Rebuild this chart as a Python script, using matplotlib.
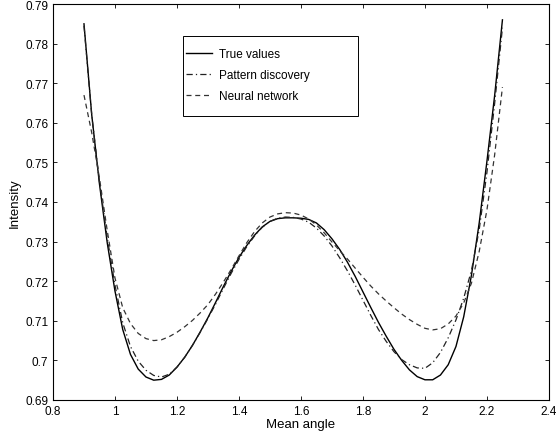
import matplotlib
matplotlib.use("Agg")
import matplotlib.pyplot as plt
from matplotlib.patches import Rectangle

plt.rcParams['font.family'] = ['Liberation Sans', 'DejaVu Sans']

x = [0.900, 0.925, 0.950, 0.975, 1.000, 1.025, 1.050, 1.075, 1.100, 1.125,
     1.150, 1.175, 1.200, 1.225, 1.250, 1.275, 1.300, 1.325, 1.350, 1.375,
     1.400, 1.425, 1.450, 1.475, 1.500, 1.525, 1.550, 1.575, 1.600, 1.625,
     1.650, 1.675, 1.700, 1.725, 1.750, 1.775, 1.800, 1.825, 1.850, 1.875,
     1.900, 1.925, 1.950, 1.975, 2.000, 2.025, 2.050, 2.075, 2.100, 2.125,
     2.150, 2.175, 2.200, 2.225, 2.250]

true_values = [0.785, 0.762, 0.7445, 0.7297, 0.7175, 0.7078, 0.7015, 0.6978, 0.6958, 0.695,
               0.6952, 0.6963, 0.6983, 0.7008, 0.7038, 0.7072, 0.7108, 0.7147, 0.7187, 0.7225,
               0.726, 0.729, 0.7316, 0.7337, 0.7351, 0.7358, 0.736, 0.736, 0.7359, 0.7356,
               0.7347, 0.733, 0.7307, 0.728, 0.7248, 0.7212, 0.7173, 0.7134, 0.7096, 0.7061,
               0.7028, 0.700, 0.6976, 0.6959, 0.6951, 0.6951, 0.6963, 0.6989, 0.7035, 0.711,
               0.7215, 0.7347, 0.7503, 0.767, 0.786]

pattern_discovery = [0.7845, 0.762, 0.745, 0.731, 0.719, 0.7095, 0.7035, 0.6998, 0.6975, 0.6962,
                     0.6958, 0.6965, 0.6983, 0.7008, 0.7038, 0.7071, 0.7106, 0.7143, 0.7182, 0.722,
                     0.7255, 0.7287, 0.7314, 0.7336, 0.7351, 0.7359, 0.7362, 0.7361, 0.7357, 0.7349,
                     0.7334, 0.7314, 0.7289, 0.7259, 0.7226, 0.719, 0.7152, 0.7114, 0.7078, 0.7048,
                     0.7022, 0.7002, 0.6989, 0.6981, 0.698, 0.6994, 0.702, 0.7057, 0.7102, 0.7157,
                     0.7227, 0.733, 0.7475, 0.765, 0.784]

neural_network = [0.767, 0.7575, 0.746, 0.7328, 0.7208, 0.7133, 0.7093, 0.7068, 0.7055, 0.705,
                  0.7052, 0.706, 0.7071, 0.7085, 0.7101, 0.712, 0.7141, 0.7168, 0.7198, 0.723,
                  0.7264, 0.7297, 0.7325, 0.7347, 0.7362, 0.737, 0.7373, 0.7372, 0.7367, 0.7357,
                  0.7342, 0.7322, 0.7299, 0.7277, 0.7256, 0.7233, 0.721, 0.7188, 0.7168, 0.715,
                  0.7133, 0.7117, 0.7103, 0.7091, 0.7081, 0.7077, 0.708, 0.7092, 0.7112, 0.7145,
                  0.7195, 0.7275, 0.738, 0.752, 0.769]

xticks = [0.8, 1.0, 1.2, 1.4, 1.6, 1.8, 2.0, 2.2, 2.4]
xticklabels = ['0.8', '1', '1.2', '1.4', '1.6', '1.8', '2', '2.2', '2.4']
yticks = [0.69, 0.70, 0.71, 0.72, 0.73, 0.74, 0.75, 0.76, 0.77, 0.78, 0.79]
yticklabels = ['0.69', '0.7', '0.71', '0.72', '0.73', '0.74', '0.75', '0.76', '0.77', '0.78', '0.79']

fig = plt.figure(figsize=(5.56, 4.35), dpi=100)
ax = fig.add_axes([0.0953, 0.0782, 0.8920, 0.9103])

ax.plot(x, true_values, color='black', lw=1.0, linestyle='-', label='True values')
ax.plot(x, pattern_discovery, color='#222222', lw=0.9, linestyle=(0, (5, 2.5, 1, 2.5)), label='Pattern discovery')
ax.plot(x, neural_network, color='#333333', lw=0.9, linestyle=(0, (4, 3)), label='Neural network')

ax.set_xlim(0.8, 2.4)
ax.set_ylim(0.69, 0.79)
ax.set_xticks(xticks)
ax.set_xticklabels(xticklabels)
ax.set_yticks(yticks)
ax.set_yticklabels(yticklabels)
ax.tick_params(direction='in', top=True, right=True, labelsize=8.5, length=3, width=0.6)
for s in ax.spines.values():
    s.set_linewidth(0.8)

ax.set_xlabel('Mean angle', fontsize=9.5, labelpad=1)
ax.set_ylabel('Intensity', fontsize=9.5, labelpad=3)

ax.add_patch(Rectangle((0.262, 0.717), 0.353, 0.202, transform=ax.transAxes,
                       facecolor='white', edgecolor='black', lw=0.7, zorder=4))
leg = ax.legend(loc='upper left', bbox_to_anchor=(0.268, 0.889), fontsize=8.5,
                frameon=False, borderpad=0, handlelength=2.2,
                handletextpad=0.6, labelspacing=0.78, borderaxespad=0)
leg.set_zorder(5)

fig.savefig('out.png', dpi=100)
